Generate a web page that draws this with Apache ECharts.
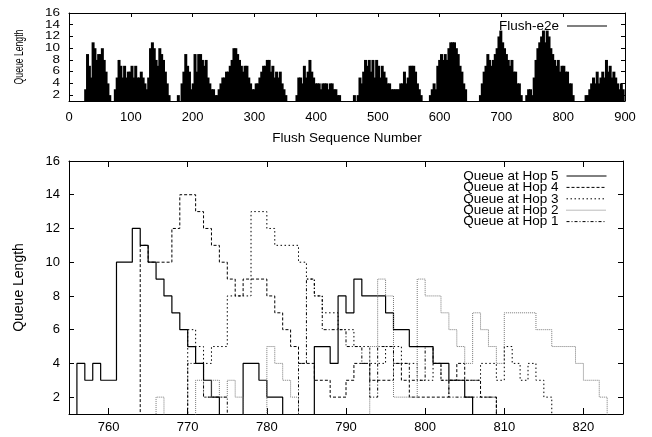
<!DOCTYPE html>
<html>
<head>
<meta charset="utf-8">
<script src="https://cdn.jsdelivr.net/npm/echarts@6/dist/echarts.min.js"></script>
<style>
  html, body { margin: 0; padding: 0; background: #fff; }
  #chart { width: 652px; height: 437px; }
</style>
</head>
<body>
<div id="chart"></div>
<script>
// ---- end-to-end flush queue, one reading every 3 sequence numbers ----
const flushStep = 3;
const flushQueue = [
  0,0,0,0,0,0,0,0,0,3,
  9,7,5,11,10,8,9,9,10,8,
  6,4,2,0,0,3,5,8,7,5,
  7,5,6,6,7,5,7,5,5,6,
  5,4,3,5,10,11,10,8,7,10,
  9,8,6,4,2,0,0,0,0,2,
  0,4,6,9,7,6,3,4,9,6,
  9,9,8,7,8,5,4,3,3,2,
  2,3,4,5,5,6,6,7,8,10,
  10,9,8,7,6,7,7,5,4,3,
  3,4,4,5,6,7,7,8,8,6,
  7,5,6,5,6,4,3,2,0,0,
  0,0,0,2,5,5,4,7,5,6,
  8,6,5,4,4,4,3,4,4,4,
  3,4,4,3,3,2,2,0,0,0,
  0,0,0,1,2,1,2,5,4,6,
  8,7,8,6,8,5,8,7,5,7,
  6,5,4,4,3,3,3,3,3,4,
  4,6,4,5,7,7,7,6,4,3,
  2,0,0,0,0,2,3,4,3,7,
  8,9,8,9,8,10,11,11,11,10,
  9,7,6,4,3,1,0,0,0,0,
  0,0,2,4,6,7,9,8,7,8,
  9,10,12,13,11,10,9,8,7,8,
  6,6,4,4,2,1,1,2,3,3,
  2,5,8,10,11,12,13,11,13,12,
  10,9,8,7,8,6,7,7,6,6,
  4,4,2,1,0,0,0,0,0,2,
  2,3,4,5,4,6,4,5,6,5,
  8,6,7,5,6,5,4,3,4,3
];

// ---- per-hop queue lengths, sequence numbers 755 .. 825 ----
const hopStart = 755;
const hop5 = [
  0,4,3,4,3,3,10,10,12,11,
  10,9,8,7,6,5,4,3,2,0,
  0,0,4,4,3,2,2,0,0,0,
  0,5,5,4,8,7,9,8,8,8,
  7,6,6,5,5,5,4,4,3,3,
  2,0,0,0,0,0,0,0,0,0,
  0,0,0,0,0,0,0,0,0,0,0
];
const hop4 = [
  0,0,0,0,0,0,0,0,0,11,
  10,10,10,12,14,14,13,12,11,10,
  9,8,9,9,9,8,7,6,5,4,
  4,3,3,2,2,3,4,4,3,3,
  3,4,3,2,2,2,2,2,3,4,
  3,3,2,2,0,0,0,0,0,0,
  0,0,0,0,0,0,0,0,0,0,0
];
const hop3 = [
  0,0,0,0,0,0,0,0,0,0,
  0,0,0,0,0,6,5,4,5,5,
  8,8,8,13,13,12,11,11,11,10,
  9,8,7,7,6,6,5,5,4,4,
  5,5,4,4,3,3,4,3,3,3,
  3,3,4,4,3,5,4,3,4,3,
  2,0,0,0,0,0,0,0,0,0,0
];
const hop2 = [
  0,0,0,0,0,0,0,0,0,0,
  0,2,0,0,0,0,3,2,3,2,
  3,2,0,0,0,5,4,3,2,0,
  0,0,0,0,0,0,0,0,5,9,
  8,2,2,2,9,8,8,7,6,5,
  4,7,6,5,4,7,7,7,7,6,
  6,5,5,5,4,3,3,2,0,0,0
];
const hop1 = [
  0,0,0,0,0,0,0,0,0,0,
  0,0,0,0,0,4,4,2,2,2,
  0,0,0,0,0,0,0,0,0,4,
  9,8,6,6,6,5,5,4,2,5,
  5,4,4,3,3,5,4,3,2,2,
  2,2,2,2,0,0,0,0,0,0,
  0,0,0,0,0,0,0,0,0,0,0
];

const hopNames = ['Queue at Hop 5', 'Queue at Hop 4', 'Queue at Hop 3', 'Queue at Hop 2', 'Queue at Hop 1'];
const queueTicks = [2, 4, 6, 8, 10, 12, 14, 16];
const flushTicks = [0, 100, 200, 300, 400, 500, 600, 700, 800, 900];
const hopTicks = [760, 770, 780, 790, 800, 810, 820];

// ---- styling ----
const FONT = '"Liberation Sans", Arial, Helvetica, sans-serif';
const INK = '#000';
const lineDefs = [
  { data: hop5, color: '#000', type: 'solid', width: 1.2 },
  { data: hop4, color: '#000', type: [3, 2], width: 1 },
  { data: hop3, color: '#000', type: [1.5, 2.5], width: 1 },
  { data: hop2, color: '#777', type: [1, 1], width: 1 },
  { data: hop1, color: '#000', type: [3, 2, 1, 2], width: 1 }
];

function valueAxis(grid, pos, min, max, opts) {
  const showLabel = !opts.noLabel && (pos === 'bottom' || pos === 'left');
  return {
    gridIndex: grid,
    type: 'value',
    position: pos,
    min: min,
    max: max,
    axisLine: { show: true, onZero: false, lineStyle: { color: INK, width: 1 } },
    axisTick: { show: true, inside: true, length: opts.tick, customValues: opts.ticks, lineStyle: { color: INK } },
    axisLabel: { show: showLabel, customValues: opts.ticks, color: INK, fontFamily: FONT, fontSize: 13, margin: opts.margin,
                 showMinLabel: true, showMaxLabel: true },
    splitLine: { show: false }
  };
}

const xAxes = [
  Object.assign(valueAxis(0, 'bottom', 0, 900, { ticks: flushTicks, tick: 4, margin: 10 }), {
    name: 'Flush Sequence Number', nameLocation: 'middle', nameGap: 30,
    nameTextStyle: { color: INK, fontFamily: FONT, fontSize: 13.5 }
  }),
  valueAxis(0, 'top', 0, 900, { ticks: flushTicks, tick: 4 }),
  valueAxis(1, 'bottom', hopStart, 825, { ticks: hopTicks, tick: 6, margin: 7 }),
  valueAxis(1, 'top', hopStart, 825, { ticks: hopTicks, tick: 6 })
];
const yAxes = [
  // the short upper panel prints its tick numbers compressed; they are added below as text
  valueAxis(0, 'left', 1, 16, { ticks: queueTicks, tick: 4, noLabel: true }),
  valueAxis(0, 'right', 1, 16, { ticks: queueTicks, tick: 4 }),
  Object.assign(valueAxis(1, 'left', 1, 16, { ticks: queueTicks, tick: 5, margin: 9 }), {
    name: 'Queue Length', nameLocation: 'middle', nameGap: 43,
    nameTextStyle: { color: INK, fontFamily: FONT, fontSize: 14 }
  }),
  valueAxis(1, 'right', 1, 16, { ticks: queueTicks, tick: 5 })
];

const series = [{
  name: 'Flush-e2e',
  type: 'bar',
  xAxisIndex: 0,
  yAxisIndex: 0,
  barWidth: 3,
  clip: true,
  itemStyle: { color: '#000' },
  data: flushQueue.map((v, i) => [i * flushStep, v])
}];
lineDefs.forEach((d, k) => {
  series.push({
    name: hopNames[k],
    type: 'line',
    xAxisIndex: 2,
    yAxisIndex: 2,
    step: 'end',
    symbol: 'none',
    showSymbol: false,
    clip: true,
    lineStyle: { color: d.color, width: d.width, type: d.type },
    itemStyle: { color: d.color },
    data: d.data.map((v, i) => [hopStart + i, v])
  });
});

const legendText = { color: INK, fontFamily: FONT, fontSize: 13.5, padding: [0, 3, 0, 0] };

const chart = echarts.init(document.getElementById('chart'));
chart.setOption({
  animation: false,
  backgroundColor: '#fff',
  grid: [
    { left: 69, right: 27, top: 13, height: 88 },
    { left: 69, right: 29, top: 161, height: 253 }
  ],
  xAxis: xAxes,
  yAxis: yAxes,
  legend: [
    {
      data: ['Flush-e2e'], right: 45, top: 19, orient: 'vertical', align: 'right',
      icon: 'rect', itemWidth: 40, itemHeight: 1, padding: 0, selectedMode: false,
      textStyle: legendText
    },
    {
      data: hopNames, right: 45, top: 169, orient: 'vertical', align: 'right',
      itemWidth: 40, itemHeight: 1, itemGap: -2.6, padding: 0, selectedMode: false,
      itemStyle: { opacity: 0 },
      lineStyle: { width: 1 },
      textStyle: legendText
    }
  ],
  series: series
});

// compressed labels of the upper panel: its axis title and y tick numbers
const graphics = [{
  type: 'text',
  x: 19, y: 57,
  rotation: Math.PI / 2,
  scaleX: 0.64,
  style: { text: 'Queue Length', fill: INK, font: '13.5px ' + FONT, textAlign: 'center', textVerticalAlign: 'middle' }
}];
queueTicks.forEach(v => {
  const py = chart.convertToPixel({ yAxisIndex: 0 }, v);
  graphics.push({
    type: 'text',
    x: 60, y: py,
    scaleY: 0.75,
    style: { text: String(v), fill: INK, font: '13.5px ' + FONT, textAlign: 'right', textVerticalAlign: 'middle' }
  });
});
chart.setOption({ graphic: graphics });
</script>
</body>
</html>
